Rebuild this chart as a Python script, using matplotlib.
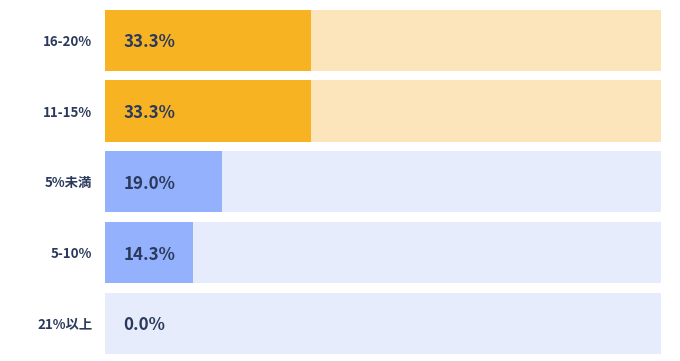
import matplotlib.pyplot as plt

plt.rcParams['font.family'] = ['Noto Sans CJK JP', 'DejaVu Sans']

# データ
categories = ['16-20%', '11-15%', '5%未満', '5-10%', '21%以上']
values = [33.3, 33.3, 19.0, 14.3, 0.0]
track_max = 90
bar_colors = ['#F8B323', '#F8B323', '#93B1FC', '#93B1FC', '#93B1FC']
track_colors = ['#FCE5BA', '#FCE5BA', '#E6ECFC', '#E6ECFC', '#E6ECFC']
text_color = '#2B3A5C'

fig = plt.figure(figsize=(6.8, 3.61), dpi=100)
ax = fig.add_axes([105 / 680, 2.5 / 361, 556 / 680, 353.5 / 361])

y = list(range(len(categories)))[::-1]
ax.barh(y, [track_max] * len(categories), height=0.866, color=track_colors)
ax.barh(y, values, height=0.866, color=bar_colors)

for yi, v in zip(y, values):
    ax.annotate(f'{v:.1f}%', (0, yi), xytext=(13.5, -1.5), textcoords='offset points',
                ha='left', va='center', fontsize=12.2, fontweight='bold',
                color=text_color)

ax.set_xlim(0, track_max)
ax.set_ylim(-0.5, len(categories) - 0.5)
ax.set_yticks(y)
ax.set_yticklabels(categories, fontsize=9.6, fontweight='bold', color=text_color)
ax.tick_params(axis='y', length=0, pad=9)
ax.set_xticks([])
for s in ax.spines.values():
    s.set_visible(False)

fig.savefig('out.png', dpi=100)
